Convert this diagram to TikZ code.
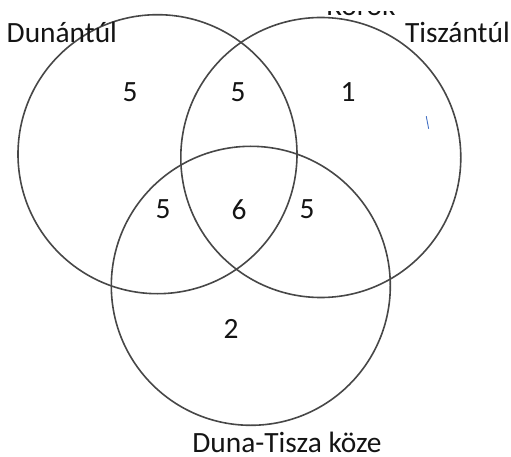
\documentclass[tikz,border=0pt]{standalone}
\usepackage{fontspec}
\setmainfont{Carlito}
\begin{document}
\begin{tikzpicture}[x=1pt,y=-1pt,
  ring/.style={draw=black!72,line width=1.6pt},
  lbl/.style={inner sep=0pt,font=\fontsize{29.4}{32}\selectfont,text=black!92},
  num/.style={lbl,anchor=center}]
\useasboundingbox (0,0) rectangle (511,457);

% the three sets
\node[ring,circle,minimum size=279pt,inner sep=0pt] (dun) at (157.5,154.2) {};
\node[ring,circle,minimum size=280pt,inner sep=0pt] (tisz) at (320.8,157.5) {};
\node[ring,circle,minimum size=279pt,inner sep=0pt] (dtk) at (250.8,285.8) {};

% set names
\node[lbl,anchor=base west] (ldun) at (6.5,43) {Dunántúl};
\node[lbl,anchor=base east] (ltisz) at (510,43) {Tiszántúl};
\node[lbl,anchor=base,text depth=0pt] (ldtk) at (287,452) {Duna-Tisza köze};

% partly hidden heading above the right circle
\begin{scope}
  \clip (300,11.5) rectangle (420,22);
  \node[lbl,anchor=base] (head) at (361,16) {Körök};
\end{scope}

% counts in each region
\node[num] (n1) at (130,92) {5};
\node[num] (n12) at (238,92) {5};
\node[num] (n2) at (348,92) {1};
\node[num] (n13) at (163,209.5) {5};
\node[num] (n123) at (239,209.5) {6};
\node[num] (n23) at (307,209.5) {5};
\node[num] (n3) at (231,328.5) {2};

% small blue pen stroke
\coordinate (pa) at (426.3,116.5);
\coordinate (pb) at (428.6,128.5);
\draw[draw={rgb,255:red,68;green,114;blue,196},line width=0.9pt,line cap=round] (pa) -- (pb);
\end{tikzpicture}
\end{document}
